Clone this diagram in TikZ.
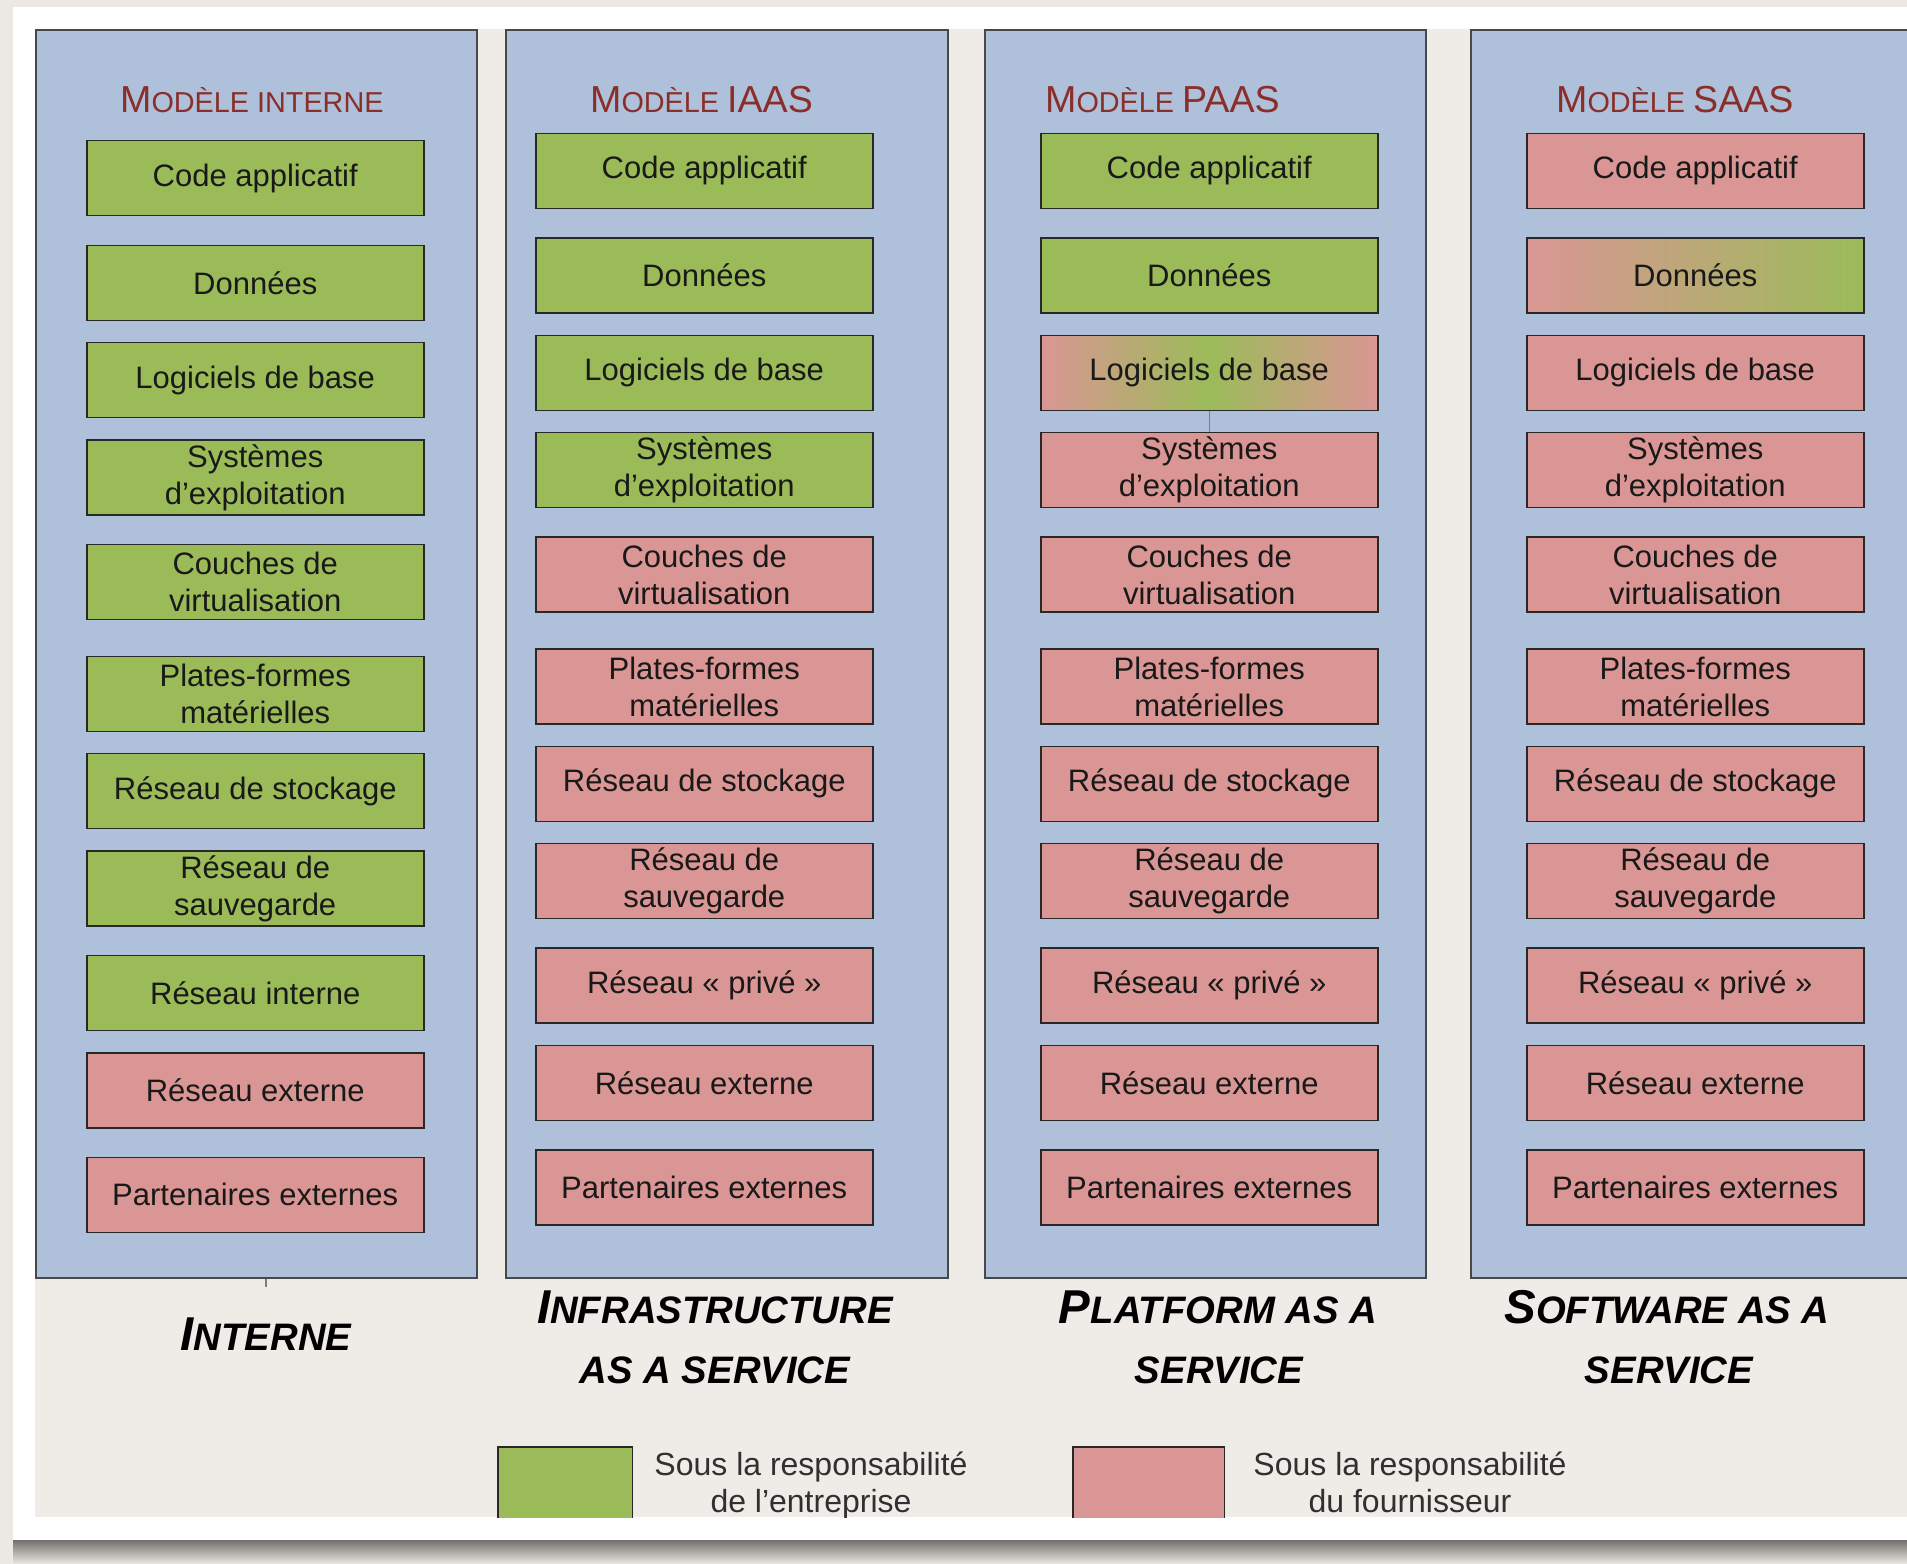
\documentclass[tikz,border=0pt]{standalone}
\usepackage{fontspec}
\setmainfont{Liberation Sans}
\definecolor{outer}{RGB}{236,233,228}
\definecolor{sheet}{RGB}{239,236,231}
\definecolor{panelc}{RGB}{174,192,218}
\definecolor{leaf}{RGB}{155,187,89}
\definecolor{rose}{RGB}{218,150,148}
\definecolor{titlec}{RGB}{138,46,42}
\definecolor{edge}{RGB}{40,40,40}
\definecolor{ink}{RGB}{25,25,25}
\definecolor{shadowc}{RGB}{115,113,109}
\newcommand\cellfont{\fontsize{31}{37}\selectfont}
\newcommand\TBig{\fontsize{37.6}{44}\selectfont}
\newcommand\TSmall{\fontsize{28.8}{44}\selectfont}
\newcommand\LBig{\fontsize{47.5}{52}\selectfont}
\newcommand\LSmall{\fontsize{38.3}{52}\selectfont}
\tikzset{
  panel/.style={draw=edge!85, line width=1.6pt, fill=panelc, inner sep=0pt, anchor=north west},
  cell/.style={draw=edge, line width=1.5pt, minimum width=337pt, minimum height=75pt,
    inner sep=0pt, align=center, font=\cellfont, text=ink, anchor=north west},
  kind/.style={#1},
  G/.style={fill=leaf},
  R/.style={fill=rose},
  GR/.style={left color=rose, right color=rose, middle color=leaf},
  RG/.style={left color=rose, right color=leaf},
  title/.style={text=titlec, anchor=base west, inner sep=0pt},
  lab/.style={font=\bfseries\itshape, text=black, anchor=base, inner sep=0pt},
  legtext/.style={font=\fontsize{32}{37}\selectfont, text=ink!90, anchor=base, inner sep=0pt},
  stub/.style={draw=edge!60, line width=1.2pt},
}
\begin{document}
\begin{tikzpicture}[x=1pt,y=-1pt]
\useasboundingbox (0,0) rectangle (1907,1564);
\clip (0,0) rectangle (1907,1564);

% page, shadow and sheet
\fill[outer] (0,0) rectangle (1907,1564);
\shade[top color=shadowc, bottom color=outer] (13,1540) rectangle (1907,1564);
\fill[white] (13,7) rectangle (1907,1540);
\fill[sheet] (35,29) rectangle (1907,1517);

% the four columns
\node[panel, minimum width=441pt, minimum height=1248pt] (p1) at (35,29) {};
\node[panel, minimum width=442pt, minimum height=1248pt] (p2) at (505,29) {};
\node[panel, minimum width=441pt, minimum height=1248pt] (p3) at (984,29) {};
\node[panel, minimum width=441pt, minimum height=1248pt] (p4) at (1470,29) {};

% column titles
\node[title] (t1) at (120,112) {{\TBig M}{\TSmall ODÈLE INTERNE}};
\node[title] (t2) at (590,112) {{\TBig M}{\TSmall ODÈLE }{\TBig IAAS}};
\node[title] (t3) at (1045,112) {{\TBig M}{\TSmall ODÈLE }{\TBig PAAS}};
\node[title] (t4) at (1556,112) {{\TBig M}{\TSmall ODÈLE }{\TBig SAAS}};

% internal model
\foreach \y/\k/\lab [count=\i] in {
  139.9/G/{Code applicatif},
  244.5/G/{Données},
  341.8/G/{Logiciels de base},
  439.1/G/{Systèmes\\d’exploitation},
  543.6/G/{Couches de\\virtualisation},
  655.5/G/{Plates-formes\\matérielles},
  752.8/G/{Réseau de stockage},
  850.1/G/{Réseau de\\sauvegarde},
  954.7/G/{Réseau interne},
  1052/R/{Réseau externe},
  1156.6/R/{Partenaires externes}}
  \node[cell, kind/.expand once=\k] (a\i) at (86,\y) {\lab};

% IaaS
\foreach \y/\k/\lab [count=\i] in {
  132.6/G/{Code applicatif},
  237.2/G/{Données},
  334.5/G/{Logiciels de base},
  431.8/G/{Systèmes\\d’exploitation},
  536.3/R/{Couches de\\virtualisation},
  648.2/R/{Plates-formes\\matérielles},
  745.5/R/{Réseau de stockage},
  842.8/R/{Réseau de\\sauvegarde},
  947.4/R/{Réseau «~privé~»},
  1044.7/R/{Réseau externe},
  1149.3/R/{Partenaires externes}}
  \node[cell, kind/.expand once=\k] (b\i) at (535,\y) {\lab};

% PaaS
\foreach \y/\k/\lab [count=\i] in {
  132.6/G/{Code applicatif},
  237.2/G/{Données},
  334.5/GR/{Logiciels de base},
  431.8/R/{Systèmes\\d’exploitation},
  536.3/R/{Couches de\\virtualisation},
  648.2/R/{Plates-formes\\matérielles},
  745.5/R/{Réseau de stockage},
  842.8/R/{Réseau de\\sauvegarde},
  947.4/R/{Réseau «~privé~»},
  1044.7/R/{Réseau externe},
  1149.3/R/{Partenaires externes}}
  \node[cell, kind/.expand once=\k] (c\i) at (1040,\y) {\lab};

% SaaS
\foreach \y/\k/\lab [count=\i] in {
  132.6/R/{Code applicatif},
  237.2/RG/{Données},
  334.5/R/{Logiciels de base},
  431.8/R/{Systèmes\\d’exploitation},
  536.3/R/{Couches de\\virtualisation},
  648.2/R/{Plates-formes\\matérielles},
  745.5/R/{Réseau de stockage},
  842.8/R/{Réseau de\\sauvegarde},
  947.4/R/{Réseau «~privé~»},
  1044.7/R/{Réseau externe},
  1149.3/R/{Partenaires externes}}
  \node[cell, kind/.expand once=\k] (d\i) at (1526,\y) {\lab};

% short stubs
\draw[stub] (c3.south) -- (c4.north);
\coordinate (tick) at (266,1287);
\draw[stub] (p1.south -| tick) -- (tick);

% model names under the columns
\node[lab] (l1) at (266,1350) {{\LBig I}{\LSmall NTERNE}};
\node[lab] (l2a) at (715,1323) {{\LBig I}{\LSmall NFRASTRUCTURE}};
\node[lab] (l2b) at (715,1383) {{\LSmall AS A SERVICE}};
\node[lab] (l3a) at (1218,1323) {{\LBig P}{\LSmall LATFORM AS A}};
\node[lab] (l3b) at (1219,1383) {{\LSmall SERVICE}};
\node[lab] (l4a) at (1667,1323) {{\LBig S}{\LSmall OFTWARE AS A}};
\node[lab] (l4b) at (1669,1383) {{\LSmall SERVICE}};

% legend
\begin{scope}
\clip (35,29) rectangle (1907,1517);
\node[fill=leaf, minimum width=134pt, minimum height=72pt, inner sep=0pt, anchor=north west] (kg) at (498,1447) {};
\draw[edge, line width=1.5pt] (kg.south west) |- (kg.north east) -- (kg.south east);
\node[fill=rose, minimum width=151pt, minimum height=72pt, inner sep=0pt, anchor=north west] (kr) at (1073,1447) {};
\draw[edge, line width=1.5pt] (kr.south west) |- (kr.north east) -- (kr.south east);
\node[legtext] (kg1) at (811,1475) {Sous la responsabilité};
\node[legtext] (kg2) at (811,1512) {de l’entreprise};
\node[legtext] (kr1) at (1410,1475) {Sous la responsabilité};
\node[legtext] (kr2) at (1410,1512) {du fournisseur};
\end{scope}
\end{tikzpicture}
\end{document}
